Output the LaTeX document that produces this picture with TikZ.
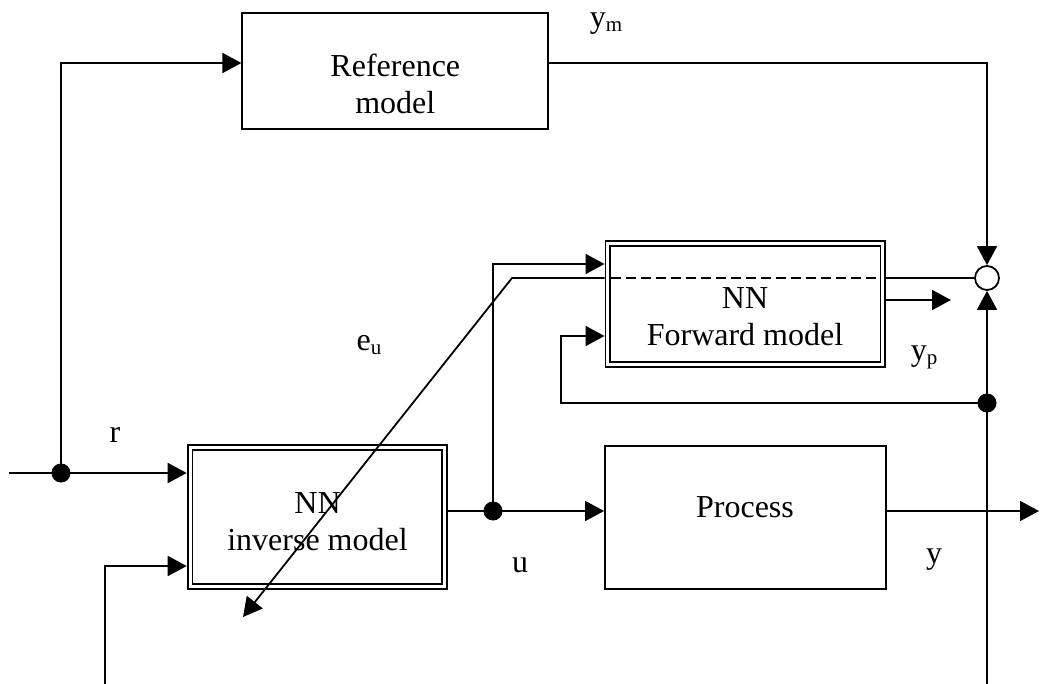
\documentclass[tikz,border=0pt]{standalone}
\usepackage{fontspec}
\setmainfont{Liberation Serif}
\usetikzlibrary{arrows.meta}
\newcommand{\lowsub}[1]{\raisebox{-4pt}{\fontsize{21}{21}\selectfont #1}}
\begin{document}
\begin{tikzpicture}[x=1pt,y=-1pt,
  every node/.style={font=\fontsize{32}{37}\selectfont},
  ln/.style={line width=1.8pt},
  arr/.style={ln,-{Triangle[length=19pt,width=20pt]}},
  box/.style={draw,line width=1.8pt,inner sep=0pt},
  dbox/.style={draw,line width=1.8pt,double,double distance=3pt,inner sep=0pt,outer sep=3.3pt},
  dot/.style={circle,fill,inner sep=0pt,minimum size=19pt},
  lbl/.style={anchor=base,inner sep=0pt}
]
\useasboundingbox (0,0) rectangle (1040,684);

% blocks
\node[box,minimum width=306pt,minimum height=116pt] (ref) at (395.3,71.3) {};
\node[lbl] (refA) at (395.3,77) {Reference};
\node[lbl] (refB) at (395.3,114) {model};

\node[dbox,minimum width=275pt,minimum height=121.4pt] (fwd) at (745.3,304) {};
\node[lbl] (fwdA) at (745,308) {NN};
\node[lbl] (fwdB) at (745,345) {Forward model};

\node[dbox,minimum width=254.4pt,minimum height=139pt] (inv) at (317.2,517.1) {};
\node[lbl] (invA) at (317.5,513) {NN};
\node[lbl] (invB) at (317.5,550) {inverse model};

\node[box,minimum width=281pt,minimum height=143.3pt] (proc) at (745.5,517.7) {};
\node[lbl] (procA) at (745,517) {Process};

\node[draw,circle,line width=1.8pt,minimum size=24pt,inner sep=0pt] (sum) at (987,278) {};

% junction dots
\node[dot] (d1) at (61,473) {};
\node[dot] (d2) at (493,511) {};
\node[dot] (d3) at (987,403) {};

% helper coordinates
\coordinate (rin) at (9,473);
\coordinate (c1) at (61,63);
\coordinate (c2) at (987,63);
\coordinate (vin) at (105,684);
\coordinate (c3) at (105,566);
\coordinate (c4) at (493,264);
\coordinate (c5) at (561,403);
\coordinate (c6) at (561,336);
\coordinate (ypend) at (951,300);
\coordinate (yout) at (1039,511);
\coordinate (ybot) at (987,684);
\coordinate (kink) at (512,278);
\coordinate (eutip) at (243,617);
\coordinate (dashL) at (611,278);
\coordinate (dashR) at (880,278);

% connectors
\draw[arr] (rin) -- (inv.west |- rin);
\draw[arr] (d1.center) -- (c1) -- (ref.west |- c1);
\draw[arr] (ref.east |- c2) -- (c2) -- (sum.north);
\draw[arr] (vin) -- (c3) -- (inv.west |- c3);
\draw[arr] (inv.east |- d2) -- (proc.west |- d2);
\draw[arr] (d2.center) -- (c4) -- (fwd.west |- c4);
\draw[ln] (sum.west) -- (fwd.east |- sum.west);
\draw[ln,dash pattern=on 10pt off 5pt] (dashL) -- (dashR);
\draw[arr] (fwd.west |- sum.west) -- (kink) -- (eutip);
\draw[arr] (fwd.east |- ypend) -- (ypend);
\draw[arr] (proc.east |- yout) -- (yout);
\draw[arr] (ybot) -- (sum.south);
\draw[arr] (d3.center) -- (c5) -- (c6) -- (fwd.west |- c6);

% labels
\node[lbl] (ym) at (606,28) {y\lowsub{m}};
\node[lbl] (r) at (115,442) {r};
\node[lbl] (eu) at (369,350) {e\lowsub{u}};
\node[lbl] (yp) at (924,360) {y\lowsub{p}};
\node[lbl] (u) at (520,572) {u};
\node[lbl] (y) at (934,563) {y};
\end{tikzpicture}
\end{document}
